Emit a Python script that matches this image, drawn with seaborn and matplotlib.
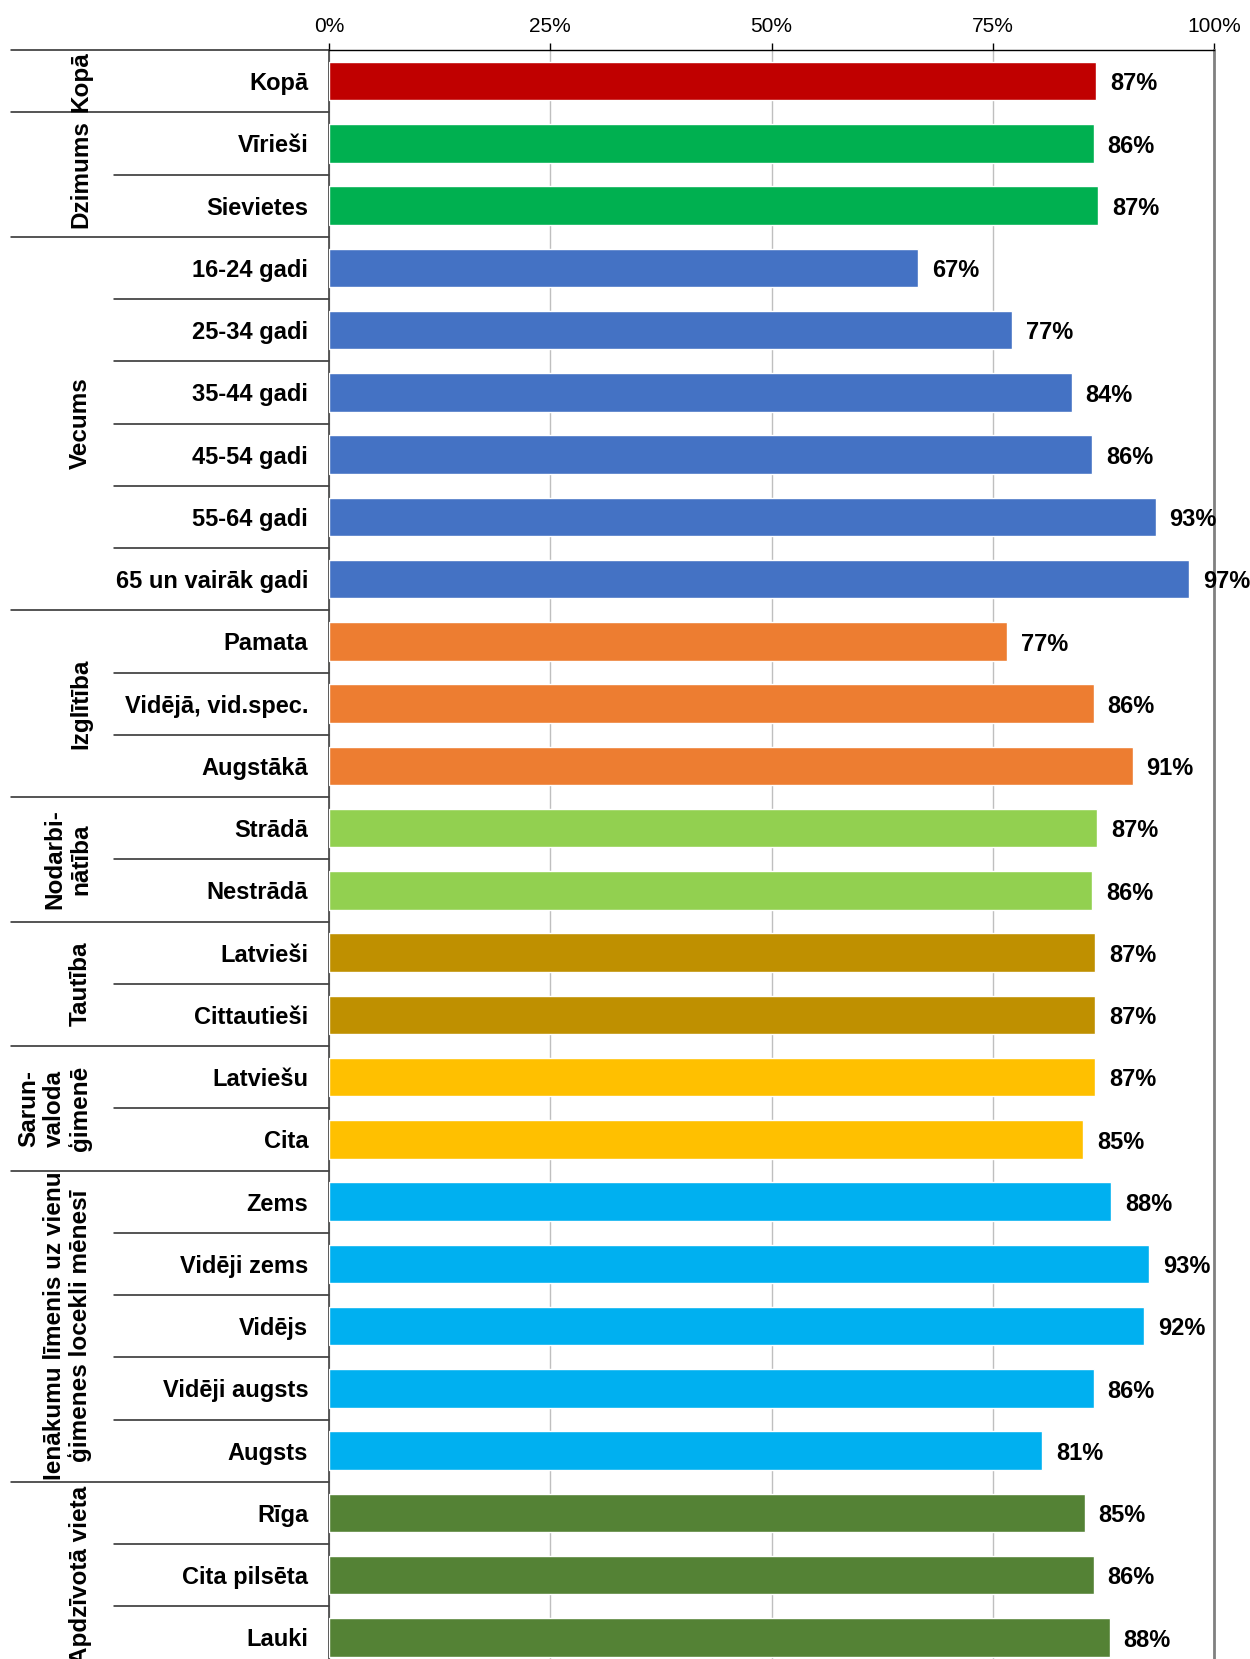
import matplotlib

matplotlib.use("Agg")
import matplotlib.pyplot as plt
import matplotlib.transforms as mtransforms
import pandas as pd
import seaborn as sns


GROUPS = [
    "Kopā",
    "Dzimums",
    "Vecums",
    "Izglītība",
    "Nodarbi-\nnātība",
    "Tautība",
    "Sarun-\nvaloda\nģimenē",
    "Ienākumu līmenis uz vienu\nģimenes locekli mēnesī",
    "Apdzīvotā vieta",
]
GROUP_SIZES = [1, 2, 6, 3, 2, 2, 2, 5, 3]
GROUP_COLORS = [
    "#C00000",
    "#00B050",
    "#4472C4",
    "#ED7D31",
    "#92D050",
    "#BF9000",
    "#FFC000",
    "#00B0F0",
    "#548235",
]
CATEGORIES = [
    "Kopā",
    "Vīrieši", "Sievietes",
    "16-24 gadi", "25-34 gadi", "35-44 gadi", "45-54 gadi", "55-64 gadi", "65 un vairāk gadi",
    "Pamata", "Vidējā, vid.spec.", "Augstākā",
    "Strādā", "Nestrādā",
    "Latvieši", "Cittautieši",
    "Latviešu", "Cita",
    "Zems", "Vidēji zems", "Vidējs", "Vidēji augsts", "Augsts",
    "Rīga", "Cita pilsēta", "Lauki",
]
VALUES = [
    86.7,
    86.4, 86.9,
    66.6, 77.2, 83.9, 86.2, 93.4, 97.2,
    76.6, 86.4, 90.8,
    86.8, 86.2,
    86.6, 86.6,
    86.6, 85.2,
    88.4, 92.7, 92.1, 86.4, 80.6,
    85.4, 86.4, 88.2,
]
XTICKS = [0, 25, 50, 75, 100]

W, H = 1250, 1659
AX_LEFT, AX_RIGHT, AX_TOP = 329, 1214, 50
ROW_H = 62.25


def px_ax(x: float) -> float:
    # figure pixel x -> axes fraction
    return (x - AX_LEFT) / (AX_RIGHT - AX_LEFT)


def main() -> None:
    group_col = [g for g, n in zip(GROUPS, GROUP_SIZES) for _ in range(n)]
    df = pd.DataFrame({"label": CATEGORIES, "value": VALUES, "group": group_col})

    sns.set_theme(style="white")
    plt.rcParams["font.family"] = ["Liberation Sans", "DejaVu Sans"]
    plt.rcParams["text.color"] = "black"
    plt.rcParams["xtick.color"] = "black"
    plt.rcParams["ytick.color"] = "black"

    fig = plt.figure(figsize=(W / 100, H / 100), dpi=100)
    n = len(CATEGORIES)
    ax_h = n * ROW_H
    ax = fig.add_axes([
        AX_LEFT / W,
        (H - AX_TOP - ax_h) / H,
        (AX_RIGHT - AX_LEFT) / W,
        ax_h / H,
    ])

    sns.barplot(
        data=df, x="value", y="label", hue="group", hue_order=GROUPS,
        palette=GROUP_COLORS, dodge=False, width=0.62, orient="h",
        legend=False, ax=ax, saturation=1, zorder=3,
    )

    for cont in ax.containers:
        texts = ax.bar_label(
            cont,
            labels=[f"{int(v + 0.5)}%" for v in cont.datavalues],
            padding=10, fontsize=17, fontweight="bold", color="black", zorder=5,
        )
        for t in texts:
            t.xyann = (t.xyann[0], -2)

    ax.set_xlim(0, 100)
    ax.set_ylim(n - 0.5, -0.5)
    ax.set_xlabel("")
    ax.set_ylabel("")
    ax.xaxis.tick_top()
    ax.set_xticks(XTICKS)
    ax.set_xticklabels([f"{t}%" for t in XTICKS], fontsize=15)
    ax.tick_params(axis="x", direction="out", length=5, width=1, pad=5, colors="black")
    ax.tick_params(axis="y", length=0, pad=15, colors="black")
    for lab in ax.get_yticklabels():
        lab.set_fontsize(17)
        lab.set_fontweight("bold")

    ax.grid(axis="x", color="#BFBFBF", lw=1, zorder=0)
    ax.grid(axis="y", visible=False)
    ax.spines["top"].set_color("black")
    ax.spines["top"].set_linewidth(1)
    ax.spines["left"].set_color("#404040")
    ax.spines["left"].set_linewidth(1.2)
    ax.spines["right"].set_color("#808080")
    ax.spines["right"].set_linewidth(2)
    ax.spines["bottom"].set_visible(False)

    trans = mtransforms.blended_transform_factory(ax.transAxes, ax.transData)
    start = 0
    for g, size in zip(GROUPS, GROUP_SIZES):
        top = start - 0.5
        ax.plot([px_ax(11), 0], [top, top], color="#262626", lw=1.1,
                transform=trans, clip_on=False)
        for k in range(1, size):
            y = start + k - 0.5
            ax.plot([px_ax(114), 0], [y, y], color="#262626", lw=1.1,
                    transform=trans, clip_on=False)
        center = start + (size - 1) / 2
        ax.text(px_ax(92), center, g, transform=trans, rotation=90,
                ha="right", va="center", multialignment="center",
                fontsize=17.5, fontweight="bold", linespacing=1.12)
        start += size

    fig.savefig("out.png", dpi=100)
    plt.close(fig)


if __name__ == "__main__":
    main()
